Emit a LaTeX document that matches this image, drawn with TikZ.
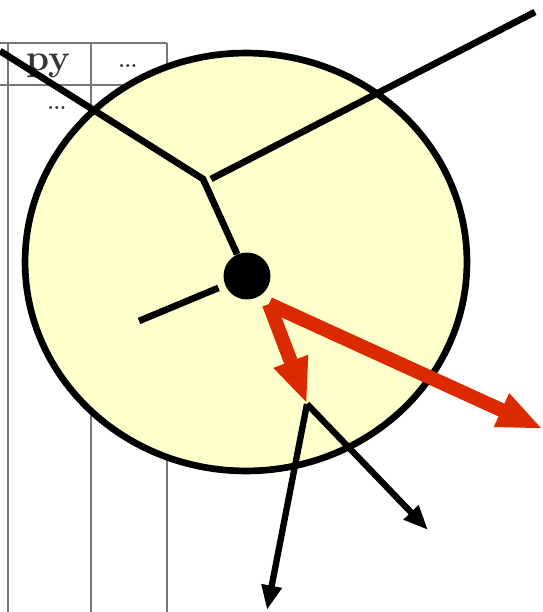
\documentclass[tikz,border=0pt]{standalone}
\usetikzlibrary{arrows.meta}
\definecolor{pale}{HTML}{FFFFCC}
\definecolor{forcered}{HTML}{DC2A00}
\definecolor{tablegray}{HTML}{777777}

\tikzset{
  rule/.style={tablegray,line width=0.9pt},
  entry/.style={text=tablegray!45!black,font=\fontsize{21}{24}\selectfont,inner sep=0pt},
  bond/.style={line width=3.8pt},
  force/.style={forcered,line width=8pt,-{Triangle[length=26pt,width=19pt]}},
  ray/.style={line width=3.6pt,-{Triangle[length=14pt,width=11pt]}}
}

\begin{document}
\begin{tikzpicture}[x=0.02cm,y=-0.02cm,>=Latex]
\useasboundingbox (0,0) rectangle (543,612);
% table behind
\draw[rule] (0,43)--(167,43) (0,85)--(167,85);
\foreach \x in {8,91,167} \draw[rule] (\x,43)--(\x,612);
\node[entry,font=\fontsize{21}{24}\selectfont\bfseries] (py) at (48,66) {py};
\node[entry] (dotsa) at (128,66) {\ldots};
\node[entry] (dotsb) at (57,108) {\ldots};
% body
\draw[line width=3.8pt,fill=pale] (246,262) ellipse [x radius=4.42cm,y radius=4.18cm];
\coordinate (inl) at (0,51);
\coordinate (junc) at (203,179);
\coordinate (juncr) at (211,179);
\coordinate (outr) at (535,12);
\coordinate (stub) at (139,321);
\node[circle,fill=black,inner sep=0pt,minimum size=0.94cm] (core) at (247,276) {};
\draw[bond] (inl)--(junc)--(core);
\draw[bond] (juncr)--(outr);
\draw[bond,shorten >=4pt] (stub)--(core);
% forces
\coordinate (fo) at (269,304);
\coordinate (fa) at (307,404);
\coordinate (fb) at (543,429);
\draw[force] (fo)--(fa);
\draw[force] (fo)--(fb);
% outgoing
\coordinate (oa) at (267,610);
\coordinate (ob) at (428,530);
\draw[ray] (fa)--(oa);
\draw[ray] (fa)--(ob);
\end{tikzpicture}
\end{document}
